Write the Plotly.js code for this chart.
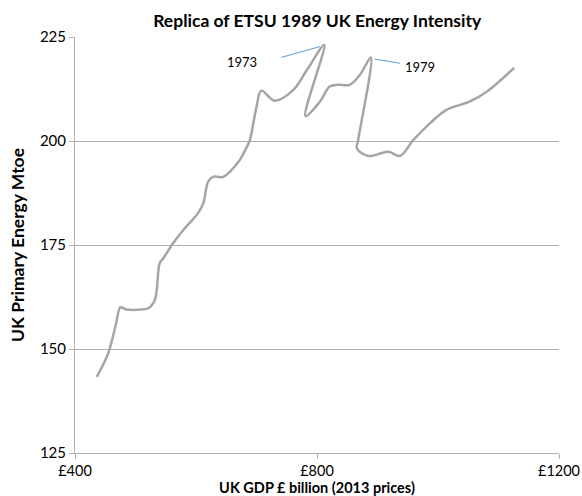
<!DOCTYPE html>
<html>
<head>
<meta charset="utf-8">
<script src="https://cdn.plot.ly/plotly-3.0.1.min.js"></script>
<style>html,body{margin:0;padding:0;background:#fff;}#chart{width:582px;height:496px;}</style>
</head>
<body>
<div id="chart"></div>
<script>
// UK GDP (£ billion, 2013 prices) and UK primary energy (Mtoe)
const gdp = [436, 455, 468, 475, 485, 510, 521, 532, 540, 546, 562, 579, 603, 612, 620, 628, 645, 672, 684, 689, 700, 708, 730, 761, 783, 812,
             781, 805, 821, 835, 854, 871, 889,
             868, 866, 885, 918, 937, 959, 987, 1014, 1053, 1081, 1126];
const energy = [143.3, 149, 156.2, 160, 159.5, 159.5, 159.8, 161.8, 170.6, 171.8, 175.4, 178.6, 182.6, 185, 190.2, 191.4, 191.4, 195.4, 198.6, 200.2, 208.2, 212.1, 209.7, 212.3, 217, 223.1,
                206, 209.5, 213.1, 213.5, 213.5, 215.9, 220.1,
                200.2, 198.2, 196.4, 197.4, 196.4, 200.2, 204.3, 207.5, 209.5, 211.9, 217.6];
const xTicks = [400, 800, 1200];
const xTickLabels = ['£400', '£800', '£1200'];
const yTicks = [125, 150, 175, 200, 225];
const labels = ['1973', '1979'];
const labelX = [676, 970];
const labelY = [219.1, 217.7];
const pointerX0 = [741, 895];
const pointerY0 = [220.1, 219.7];
const pointerX1 = [805, 937];
const pointerY1 = [222.7, 218.7];

const font = 'Lato, "Open Sans", "Liberation Sans", sans-serif';

const traces = [{
  x: gdp, y: energy, type: 'scatter', mode: 'lines',
  line: {color: '#a5a5a5', width: 2.5, shape: 'spline', smoothing: 1},
  hoverinfo: 'x+y', showlegend: false
}];
labels.forEach((t, i) => {
  traces.push({
    x: [pointerX0[i], pointerX1[i]], y: [pointerY0[i], pointerY1[i]],
    type: 'scatter', mode: 'lines', line: {color: '#5b9bd5', width: 1},
    showlegend: false, hoverinfo: 'skip'
  });
});

const annotations = labels.map((t, i) => ({
  x: labelX[i], y: labelY[i], xref: 'x', yref: 'y', text: t, showarrow: false,
  font: {family: font, size: 13, color: '#000'}
}));

const layout = {
  width: 582, height: 496,
  margin: {l: 75, r: 23, t: 37, b: 43},
  paper_bgcolor: '#fff', plot_bgcolor: '#fff',
  font: {family: font, color: '#000', size: 14},
  title: {text: '<b>Replica of ETSU 1989 UK Energy Intensity</b>', x: 0.545, xanchor: 'center', y: 0.958, yanchor: 'middle',
          font: {family: font, size: 17.5, color: '#000'}},
  xaxis: {
    range: [400, 1200], tickvals: xTicks, ticktext: xTickLabels, showgrid: false, zeroline: false,
    showline: true, linecolor: '#b0b0b0', linewidth: 1,
    ticks: 'outside', ticklen: 5, tickcolor: '#b0b0b0',
    tickfont: {family: font, size: 14.5, color: '#000'},
    title: {text: '<b>UK GDP £ billion (2013 prices)</b>', font: {family: font, size: 14.5, color: '#000'}, standoff: 7}
  },
  yaxis: {
    range: [125, 225], tickvals: yTicks, showgrid: true, gridcolor: '#b0b0b0', gridwidth: 1, zeroline: false,
    showline: true, linecolor: '#b0b0b0', linewidth: 1,
    ticks: 'outside', ticklen: 5, tickcolor: '#b0b0b0',
    tickfont: {family: font, size: 15, color: '#000'},
    title: {text: '<b>UK Primary Energy Mtoe</b>', font: {family: font, size: 17.5, color: '#000'}, standoff: 10}
  },
  annotations: annotations
};

Plotly.newPlot('chart', traces, layout, {displayModeBar: false, staticPlot: true});
</script>
</body>
</html>
